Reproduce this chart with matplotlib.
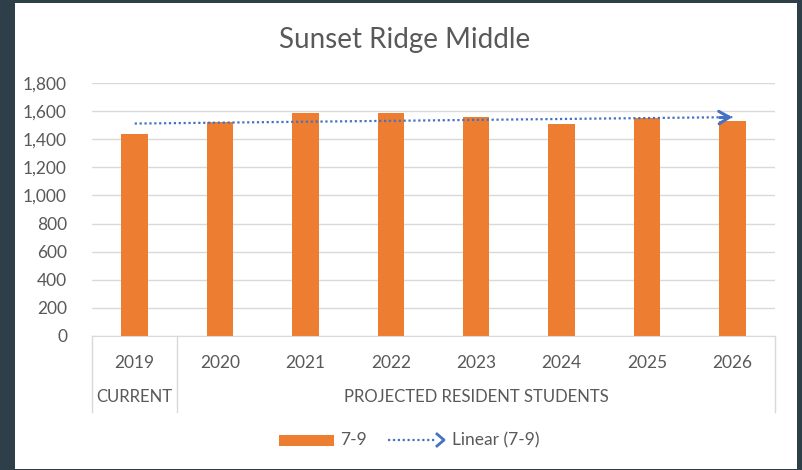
import numpy as np
import matplotlib
matplotlib.use("Agg")
import matplotlib.pyplot as plt
from matplotlib.patches import Rectangle
from matplotlib.lines import Line2D
from matplotlib.transforms import blended_transform_factory

plt.rcParams["font.family"] = ["Lato", "DejaVu Sans"]

years = ["2019", "2020", "2021", "2022", "2023", "2024", "2025", "2026"]
enrollment = [1435, 1521, 1585, 1585, 1561, 1507, 1552, 1528]
groups = ["CURRENT", "PROJECTED RESIDENT STUDENTS"]
group_sizes = [1, 7]
yticks = [0, 200, 400, 600, 800, 1000, 1200, 1400, 1600, 1800]

ORANGE = "#ED7D31"
BLUE = "#4472C4"
TEXT = "#595959"
GRID = "#D9D9D9"
DARK = "#2F3F4A"
FS = 12.5

W, H = 802, 470
fig = plt.figure(figsize=(W / 100, H / 100), dpi=100, facecolor=DARK)

# white chart panel (behind the axes)
fig.patches.append(Rectangle((15 / W, 1 / H), 782 / W, 466 / H, transform=fig.transFigure,
                             facecolor="white", edgecolor="none", zorder=-1))

ax = fig.add_axes([92 / W, (H - 336) / H, 683 / W, 253 / H])
ax.set_facecolor("none")

x = np.arange(len(years))
ax.bar(x, enrollment, width=0.31, color=ORANGE, zorder=2)

# linear trendline
slope, intercept = np.polyfit(x, enrollment, 1)
trend = slope * x + intercept
ax.plot([x[0], x[-1]], [trend[0], trend[-1]], color=BLUE, lw=1.6,
        linestyle=(0, (1, 1.2)), zorder=3)
ax.annotate("", xy=(x[-1], trend[-1]), xytext=(-9, -0.3), textcoords="offset points",
            arrowprops=dict(arrowstyle="->,head_length=0.75,head_width=0.45", color=BLUE, lw=2.2,
                            shrinkA=0, shrinkB=0),
            zorder=4)

ax.set_xlim(-0.5, len(years) - 0.5)
ax.set_ylim(0, 1800)
ax.set_yticks(yticks)
ax.set_yticklabels([f"{v:,}" for v in yticks])
ax.set_xticks(x)
ax.set_xticklabels(years)
ax.tick_params(axis="both", length=0, colors=TEXT, labelsize=FS)
ax.tick_params(axis="x", pad=14)
ax.tick_params(axis="y", pad=18)
ax.grid(axis="y", color=GRID, lw=1, zorder=1)
for s in ["top", "right", "left"]:
    ax.spines[s].set_visible(False)
ax.spines["bottom"].set_color(GRID)

# category group dividers and labels
tr = blended_transform_factory(ax.transData, ax.transAxes)
edges = np.concatenate([[0], np.cumsum(group_sizes)]) - 0.5
for e in edges:
    ax.add_line(Line2D([e, e], [0, -76 / 253], transform=tr, color=GRID, lw=1, clip_on=False))
for g, a, b in zip(groups, edges[:-1], edges[1:]):
    ax.text((a + b) / 2, -61 / 253, g, transform=tr, ha="center", va="center",
            color=TEXT, fontsize=12)

fig.text(405 / W, (H - 40) / H, "Sunset Ridge Middle", ha="center", va="center",
         color=TEXT, fontsize=20)

# legend
fig.patches.append(Rectangle((279 / W, (H - 446) / H), 55 / W, 11 / H, transform=fig.transFigure,
                             facecolor=ORANGE, edgecolor="none"))
fig.text(340 / W, (H - 440) / H, "7-9", ha="left", va="center", color=TEXT, fontsize=FS)
fig.add_artist(Line2D([388 / W, 436 / W], [(H - 440) / H] * 2, transform=fig.transFigure,
                      color=BLUE, lw=1.6, linestyle=(0, (1, 1.2))))
fig.add_artist(Line2D([437 / W, 444 / W, 437 / W],
                      [(H - 434) / H, (H - 440) / H, (H - 446) / H],
                      transform=fig.transFigure, color=BLUE, lw=2))
fig.text(452 / W, (H - 440) / H, "Linear (7-9)", ha="left", va="center", color=TEXT, fontsize=FS)

fig.savefig("out.png", dpi=100, facecolor=DARK)
